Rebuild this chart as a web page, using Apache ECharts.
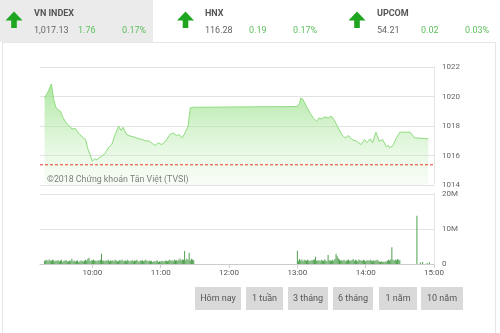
<!DOCTYPE html>
<html><head><meta charset="utf-8">
<script src="https://cdn.jsdelivr.net/npm/echarts@6/dist/echarts.min.js"></script>
<style>html,body{margin:0;padding:0;background:#fff}#c{width:500px;height:333px}</style>
</head><body><div id="c"></div>
<script>
// ---- data ----
const priceTimes = [558,561,564,566,568,570,572,574,577,580,582,585,587,589,592,594,596,598,600,602,604,606,608,611,614,617,620,623,625,627,630,634,637,640,643,646,650,653,655,658,661,664,668,671,674,676,679,682,684,686,688,690,780,782,783,785,788,791,794,797,799,801,804,807,810,813,816,819,822,825,828,832,836,839,841,844,846,849,852,855,858,860,861,864,867,870,879,883,895];
const priceValues = [1019.9,1020.3,1020.85,1019.8,1019.25,1019.1,1019.0,1018.6,1018.2,1018.0,1017.8,1017.83,1017.6,1017.42,1017.2,1017.08,1016.45,1016.07,1015.61,1015.78,1015.7,1015.85,1015.95,1016.13,1016.52,1016.74,1017.42,1017.98,1017.71,1017.91,1017.42,1017.3,1017.25,1017.15,1017.1,1017.01,1016.97,1016.8,1016.68,1016.86,1016.74,1016.95,1017.42,1017.53,1017.35,1017.42,1017.2,1017.64,1017.98,1019.23,1019.27,1019.27,1019.32,1019.55,1019.9,1019.79,1019.33,1018.89,1018.55,1018.32,1018.55,1018.48,1018.62,1018.55,1018.66,1018.32,1017.87,1017.42,1017.2,1017.35,1017.08,1016.97,1016.74,1017.08,1016.88,1017.13,1016.86,1017.58,1016.97,1017.08,1016.59,1016.68,1016.52,1016.68,1017.2,1017.58,1017.58,1017.2,1017.13];
const refPrice = 1015.37;
const priceMin = 1014, priceMax = 1022, priceStep = 2;
const timeMin = 554, timeMax = 900;
const timeTicks = [600,660,720,780,840,900];
const volMorningStart = 558;
const volMorning = [
 0.9,1.1,1.2,0.8,1.3,1.0,0.9,1.2,1.1,0.7,1.0,0.9,
 1.1,0.8,1.0,1.2,0.6,0.9,1.0,1.1,0.8,0.7,1.0,0.9,
 1.5,0.8,1.0,0.7,0.9,1.1,0.6,0.8,1.0,0.9,0.7,1.0,
 1.2,0.9,1.4,1.8,0.8,1.1,1.0,1.3,0.9,1.0,0.8,1.1,
 1.0,1.2,2.9,0.9,1.0,0.8,1.1,0.9,1.2,0.8,1.0,0.9,
 1.1,0.8,1.2,1.0,0.7,0.9,1.1,1.0,1.3,0.8,0.9,1.0,
 0.8,1.2,0.9,0.7,1.0,1.1,0.8,1.0,0.9,1.2,0.8,0.7,
 1.0,0.9,1.1,0.8,1.0,1.2,0.9,0.7,1.0,0.8,0.9,0.6,
 0.8,0.7,0.9,1.0,0.6,0.8,0.7,0.9,0.8,0.7,1.0,0.9,
 0.8,1.0,1.2,0.9,1.1,0.8,1.3,1.0,1.1,0.9,1.2,1.6,
 1.0,1.3,1.2,3.7,1.1,1.5,1.2,3.2,1.0,1.5,1.3,1.1];
const volAfternoonStart = 780;
const volAfternoon = [
 3.8,0.9,1.4,1.0,1.3,0.8,1.2,1.1,0.9,1.2,1.0,0.8,
 1.1,1.0,1.2,1.3,2.1,0.9,1.0,1.1,0.8,1.2,1.0,0.9,
 1.3,1.0,0.8,2.6,1.1,1.0,0.9,1.2,1.0,1.4,2.9,2.2,
 1.6,1.3,1.0,1.1,0.9,1.2,0.8,1.0,1.1,1.3,0.9,1.0,
 1.1,1.4,0.9,1.2,1.0,0.8,1.3,1.1,1.0,0.9,1.2,1.0,
 0.8,1.0,1.1,0.9,1.2,1.0,0.8,1.1,0.9,1.0,1.2,0.9,
 0.7,0.6,0.8,0.6,0.7,0.6,0.8,0.9,1.2,1.0,1.3,4.8,
 1.2,1.0,1.3,1.1,1.4,1.2,1.1];
const volLateTimes = [885,888,890,894,896];
const volLate = [13.8,0.4,0.6,0.3,0.5];
const volMax = 20, volStep = 10;
const indexNames = ['VN INDEX','HNX','UPCOM'];
const indexValues = ['1,017.13','116.28','54.21'];
const indexChanges = ['1.76','0.19','0.02'];
const indexPcts = ['0.17%','0.17%','0.03%'];
const rangeButtons = ['Hôm nay','1 tuần','3 tháng','6 tháng','1 năm','10 năm'];
const copyright = '©2018 Chứng khoán Tân Việt (TVSI)';

// ---- build ----
const priceData = priceTimes.map((t,i)=>[t,priceValues[i]]);
const refData = [[timeMin,refPrice],[timeMax,refPrice]];
const volData = [];
volMorning.forEach((v,i)=>volData.push([volMorningStart+i,v]));
volAfternoon.forEach((v,i)=>volData.push([volAfternoonStart+i,v]));
volLate.forEach((v,i)=>volData.push([volLateTimes[i],v]));
const fmtTime = m => { const h=Math.floor(m/60), mm=m%60; return h+':'+(mm<10?'0':'')+mm; };

const FONT = 'Roboto';
const graphics = [];
graphics.push({type:'rect',shape:{x:0,y:0,width:153,height:42},style:{fill:'#ebebeb'},z:-1});
graphics.push({type:'rect',shape:{x:2.5,y:42.5,width:493,height:300},style:{fill:'none',stroke:'#e6e6e6',lineWidth:1},z:-1});
const arrowX = [14,185.5,357];
const textX = [34,205,377];
indexNames.forEach((n,i)=>{
  const cx = arrowX[i];
  graphics.push({type:'polygon',shape:{points:[[cx,11.5],[cx+8.5,20.5],[cx+2.8,20.5],[cx+2.8,28],[cx-2.8,28],[cx-2.8,20.5],[cx-8.5,20.5]]},style:{fill:'#1fa51f'}});
  const x = textX[i];
  graphics.push({type:'text',x:x,y:14,style:{text:n,fill:'#555',font:'bold 9px '+FONT,verticalAlign:'middle'}});
  graphics.push({type:'text',x:x,y:31,style:{text:indexValues[i],fill:'#666',font:'9px '+FONT,verticalAlign:'middle'}});
  graphics.push({type:'text',x:x+44,y:31,style:{text:indexChanges[i],fill:'#5cbf5c',font:'9px '+FONT,verticalAlign:'middle'}});
  graphics.push({type:'text',x:x+88,y:31,style:{text:indexPcts[i],fill:'#5cbf5c',font:'9px '+FONT,verticalAlign:'middle'}});
});
graphics.push({type:'text',x:47,y:179.5,style:{text:copyright,fill:'#555',font:'8.8px '+FONT,verticalAlign:'middle'}});
const btnX = [195,246,288,333,379,421];
const btnW = [46,37,40,40,38,42];
rangeButtons.forEach((b,i)=>{
  graphics.push({type:'rect',shape:{x:btnX[i],y:287,width:btnW[i],height:23},style:{fill:'#d9d9d9'}});
  graphics.push({type:'text',x:btnX[i]+btnW[i]/2,y:298.5,style:{text:b,fill:'#555',font:'9px '+FONT,align:'center',verticalAlign:'middle'}});
});

const chart = echarts.init(document.getElementById('c'),null,{renderer:'canvas'});
chart.setOption({
  animation:false,
  backgroundColor:'#fff',
  graphic:graphics,
  grid:[
    {left:40,right:66,top:67,height:118},
    {left:40,right:66,top:194,height:70}
  ],
  xAxis:[
    {type:'value',gridIndex:0,min:timeMin,max:timeMax,show:false},
    {type:'value',gridIndex:1,min:timeMin,max:timeMax,
     axisLine:{show:true,lineStyle:{color:'#ccc'}},
     axisTick:{show:true,customValues:timeTicks,length:4,lineStyle:{color:'#ccc'}},
     axisLabel:{customValues:timeTicks,formatter:v=>fmtTime(v),color:'#555',fontSize:8,fontFamily:FONT,margin:5},
     splitLine:{show:false}}
  ],
  yAxis:[
    {type:'value',gridIndex:0,position:'right',min:priceMin,max:priceMax,interval:priceStep,
     axisLine:{show:true,lineStyle:{color:'#e6e6e6'}},axisTick:{show:false},
     axisLabel:{color:'#666',fontSize:8,fontFamily:FONT,margin:8,formatter:v=>String(v)},
     splitLine:{lineStyle:{color:'#e3e3e3'}}},
    {type:'value',gridIndex:1,position:'right',min:0,max:volMax,interval:volStep,
     axisLine:{show:true,lineStyle:{color:'#e6e6e6'}},axisTick:{show:false},
     axisLabel:{color:'#666',fontSize:8,fontFamily:FONT,margin:8,formatter:v=>v===0?'0':v+'M'},
     splitLine:{lineStyle:{color:'#e3e3e3'}}}
  ],
  series:[
    {type:'line',xAxisIndex:0,yAxisIndex:0,data:priceData,showSymbol:false,
     lineStyle:{color:'#8edc7e',width:1},
     areaStyle:{origin:'start',color:new echarts.graphic.LinearGradient(0,0,0,1,[{offset:0,color:'rgba(130,218,110,0.95)'},{offset:1,color:'rgba(225,247,220,0.35)'}])}},
    {type:'line',xAxisIndex:0,yAxisIndex:0,data:refData,showSymbol:false,silent:true,z:5,
     lineStyle:{color:'#ef3b2c',type:[3,2],width:1}},
    {type:'bar',xAxisIndex:1,yAxisIndex:1,data:volData,barWidth:1,
     itemStyle:{color:'#4e9f4e'}}
  ]
});
</script></body></html>
